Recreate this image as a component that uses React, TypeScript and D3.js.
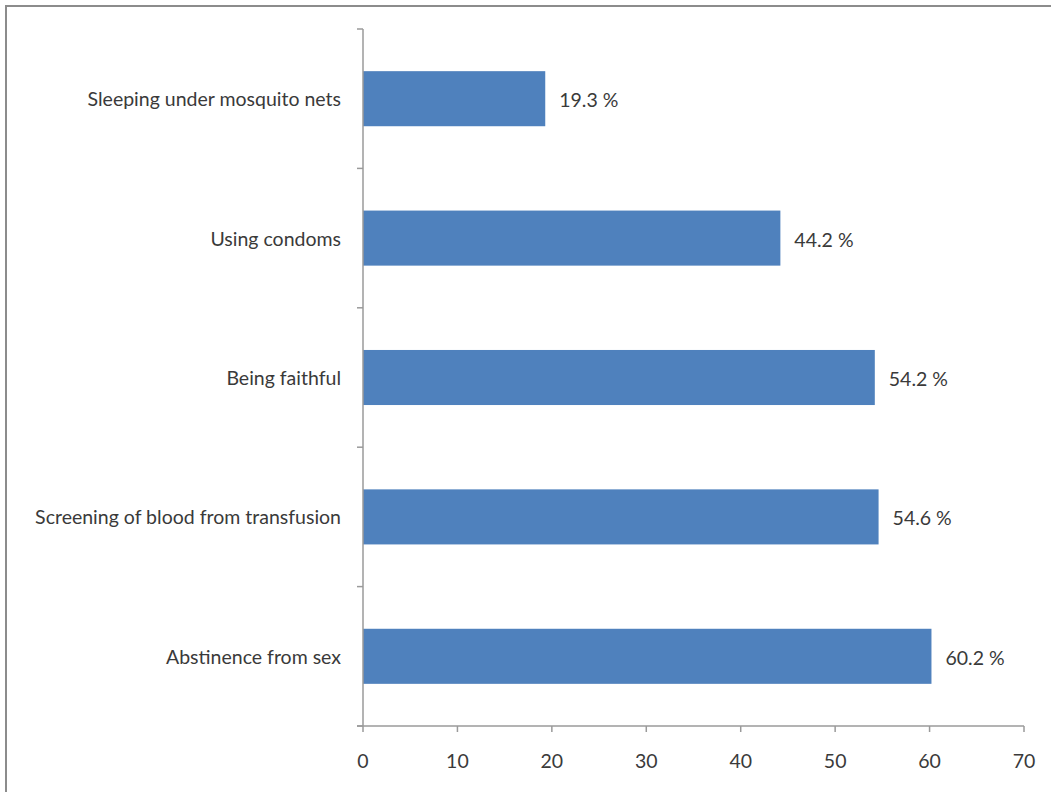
import React from "react";
import * as d3 from "d3";

const categories = [
  "Sleeping under mosquito nets",
  "Using condoms",
  "Being faithful",
  "Screening of blood from transfusion",
  "Abstinence from sex",
];
const values = [19.3, 44.2, 54.2, 54.6, 60.2];
const xTicks = [0, 10, 20, 30, 40, 50, 60, 70];

const W = 1051;
const H = 792;
const left = 363;
const right = 1024;
const top = 29;
const bottom = 726;
const font = "Lato, 'Open Sans', sans-serif";
const fs = 19.5;
const textColor = "#3a3a3a";
const axisColor = "#9a9a9a";

export default function App() {
  const x = d3.scaleLinear().domain([0, 70]).range([left, right]);
  const y = d3
    .scaleBand<string>()
    .domain(categories)
    .range([top, bottom])
    .paddingInner(0.605)
    .paddingOuter(0.3025);
  const step = (bottom - top) / categories.length;
  const boundaries = d3.range(categories.length + 1).map((i) => top + i * step);

  return (
    <svg
      width={W}
      height={H}
      style={{ position: "absolute", left: 0, top: 0, background: "#fff" }}
    >
      <rect x={0} y={0} width={W} height={H} fill="#fff" />
      <rect
        x={6}
        y={6}
        width={W + 20}
        height={H + 20}
        fill="none"
        stroke="#8c8c8c"
        strokeWidth={2}
      />
      {/* bars */}
      {categories.map((c, i) => (
        <rect
          key={c}
          x={x(0)}
          y={y(c)}
          width={x(values[i]) - x(0)}
          height={y.bandwidth()}
          fill="#4f81bd"
        />
      ))}
      {/* y axis */}
      <line x1={left} x2={left} y1={top} y2={bottom} stroke={axisColor} strokeWidth={1.5} />
      {boundaries.map((b, i) => (
        <line key={i} x1={left - 6} x2={left} y1={b} y2={b} stroke={axisColor} strokeWidth={1.5} />
      ))}
      {/* x axis */}
      <line x1={left - 6} x2={right} y1={bottom} y2={bottom} stroke={axisColor} strokeWidth={1.5} />
      {xTicks.map((t) => (
        <g key={t}>
          <line x1={x(t)} x2={x(t)} y1={bottom} y2={bottom + 6} stroke={axisColor} strokeWidth={1.5} />
          <text
            x={x(t)}
            y={760}
            textAnchor="middle"
            dominantBaseline="central"
            fontFamily={font}
            fontSize={fs}
            fill={textColor}
          >
            {t}
          </text>
        </g>
      ))}
      {/* category labels */}
      {categories.map((c) => (
        <text
          key={c}
          x={341}
          y={(y(c) as number) + y.bandwidth() / 2}
          textAnchor="end"
          dominantBaseline="central"
          fontFamily={font}
          fontSize={fs}
          fill={textColor}
        >
          {c}
        </text>
      ))}
      {/* value labels */}
      {categories.map((c, i) => (
        <text
          key={c}
          x={x(values[i]) + 14}
          y={(y(c) as number) + y.bandwidth() / 2 + 1}
          dominantBaseline="central"
          fontFamily={font}
          fontSize={fs}
          fill={textColor}
        >
          {values[i].toFixed(1)} %
        </text>
      ))}
    </svg>
  );
}
